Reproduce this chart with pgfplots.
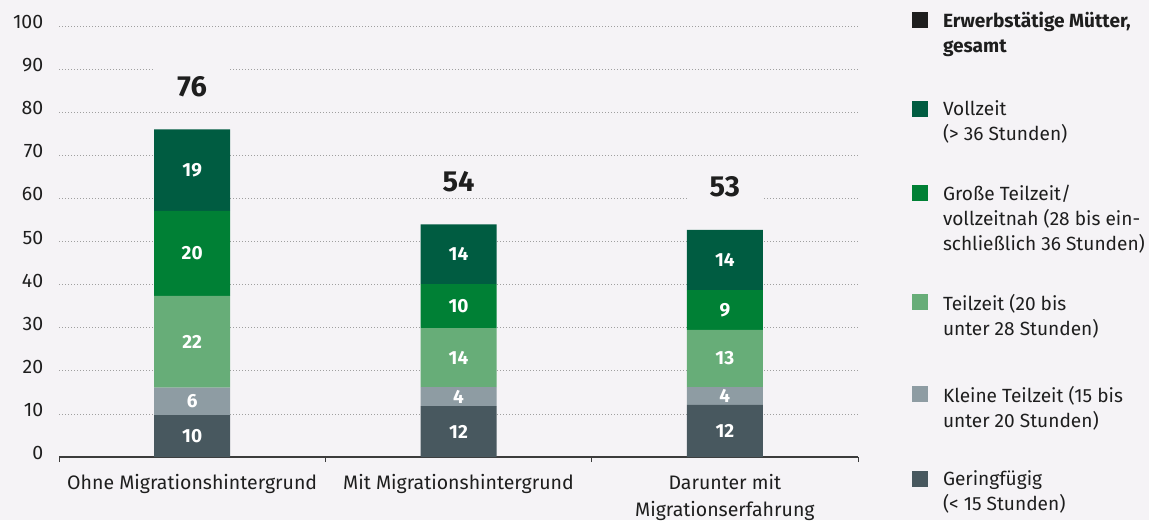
\documentclass[border=0pt]{standalone}
\usepackage{pgfplots}
\pgfplotsset{compat=1.18}
\usepackage{pgfplotstable}
\usepackage{fontspec}
\setmainfont{Fira Sans}
\definecolor{bg}{RGB}{245,243,246}
\definecolor{cVoll}{RGB}{0,92,65}
\definecolor{cGross}{RGB}{0,128,53}
\definecolor{cTeil}{RGB}{103,173,120}
\definecolor{cKlein}{RGB}{142,156,163}
\definecolor{cGering}{RGB}{72,88,95}
\definecolor{txt}{RGB}{30,30,30}
\definecolor{axc}{RGB}{60,60,60}
\newcommand\legtext[2]{{\setbox0=\vtop{\baselineskip=25bp #2}\ht0=16bp\dp0=#1\box0}}
\newcommand\darunter{\vtop{\baselineskip=27bp\halign{\hfil##\hfil\cr Darunter mit\cr Migrationserfahrung\cr}}}

\pgfplotstableread{
x y lab
0 9.7 10
1 11.8 12
2 12.1 12
}\tGering
\pgfplotstableread{
x y lab
0 6.4 6
1 4.4 4
2 4.1 4
}\tKlein
\pgfplotstableread{
x y lab
0 21.3 22
1 13.7 14
2 13.3 13
}\tTeil
\pgfplotstableread{
x y lab
0 19.7 20
1 10.2 10
2 9.2 9
}\tGross
\pgfplotstableread{
x y lab
0 18.9 19
1 13.9 14
2 14.0 14
}\tVoll
\pgfplotstableread{
x y lab
0 75.9 76
1 54.0 54
2 52.7 53
}\tTot

\begin{document}
\begin{tikzpicture}
\fill[bg] (-59bp,-63bp) rectangle (1090bp,457bp);
\begin{axis}[
  at={(0bp,0bp)}, anchor=south west,
  scale only axis, width=799bp, height=431bp,
  xmin=-0.5, xmax=2.5, ymin=0, ymax=100,
  ybar stacked, bar width=76bp,
  axis x line*=bottom, axis y line*=left,
  y axis line style={draw=none},
  x axis line style={draw=axc, line width=1.2bp},
  ytick={0,10,...,100},
  ymajorgrids, grid style={draw=gray!75, line width=0.8bp, dash pattern=on 0.8bp off 2.2bp},
  major y tick style={draw=none},
  xtick={0,1,2},
  xticklabels={Ohne Migrationshintergrund, Mit Migrationshintergrund, \darunter},
  major x tick style={draw=none},
  minor xtick={-0.5,0.5,1.5,2.5},
  minor x tick style={draw=axc, line width=1bp},
  minor tick length=5bp,
  tick align=outside,
  /pgf/number format/assume math mode=true,
  tick label style={font=\fontsize{19.5bp}{23bp}\selectfont, text=txt},
  yticklabel style={anchor=east, yshift=4bp, xshift=-8bp},
  xticklabel style={anchor=base, yshift=-28bp},
  legend style={at={(rel axis cs:1.06758,1.0325)}, anchor=north west, draw=none, fill=none,
    inner sep=0pt, outer sep=0pt, row sep=0pt,
    /tikz/every odd column/.append style={column sep=15bp},
    nodes={inner sep=0pt, outer sep=0pt, text depth=},
    cells={anchor=base west},
    font=\fontsize{19.1bp}{25bp}\selectfont, text=txt},
  legend image code/.code={\fill[#1] (0bp,0bp) rectangle (16bp,16bp);},
  seglab/.style={
    point meta=explicit symbolic,
    nodes near coords,
    every node near coord/.style={anchor=center, font=\fontsize{19bp}{19bp}\selectfont\bfseries, text=white},
  },
]
\addlegendimage{fill=txt, draw=none}
\addlegendentry{\legtext{72.7bp}{\hbox{\bfseries Erwerbstätige Mütter,}\hbox{\bfseries gesamt}}}
\addlegendimage{fill=cVoll, draw=none}
\addlegendentry{\legtext{68.3bp}{\hbox{Vollzeit}\hbox{(> 36 Stunden)}}}
\addlegendimage{fill=cGross, draw=none}
\addlegendentry{\legtext{93bp}{\hbox{Große Teilzeit/}\hbox{vollzeitnah (28 bis ein-}\hbox{schließlich 36 Stunden)}}}
\addlegendimage{fill=cTeil, draw=none}
\addlegendentry{\legtext{76bp}{\hbox{Teilzeit (20 bis}\hbox{unter 28 Stunden)}}}
\addlegendimage{fill=cKlein, draw=none}
\addlegendentry{\legtext{69bp}{\hbox{Kleine Teilzeit (15 bis}\hbox{unter 20 Stunden)}}}
\addlegendimage{fill=cGering, draw=none}
\addlegendentry{\legtext{30bp}{\hbox{Geringfügig}\hbox{(< 15 Stunden)}}}

\addplot[fill=cGering, draw=none, seglab] table[x=x,y=y,meta=lab] {\tGering};
\addplot[fill=cKlein, draw=none, seglab] table[x=x,y=y,meta=lab] {\tKlein};
\addplot[fill=cTeil, draw=none, seglab] table[x=x,y=y,meta=lab] {\tTeil};
\addplot[fill=cGross, draw=none, seglab] table[x=x,y=y,meta=lab] {\tGross};
\addplot[fill=cVoll, draw=none, seglab] table[x=x,y=y,meta=lab] {\tVoll};
\end{axis}
\begin{axis}[
  at={(0bp,0bp)}, anchor=south west,
  scale only axis, width=799bp, height=431bp,
  xmin=-0.5, xmax=2.5, ymin=0, ymax=100,
  hide axis,
]
\addplot[only marks, mark=none, point meta=explicit symbolic, nodes near coords,
  every node near coord/.style={anchor=base, yshift=33bp, font=\fontsize{29bp}{29bp}\selectfont\bfseries, text=txt, fill=bg, inner sep=0pt, text height=29.8bp, text depth=2.2bp, minimum width=76bp}]
  table[x=x,y=y,meta=lab] {\tTot};
\end{axis}
\end{tikzpicture}
\end{document}
